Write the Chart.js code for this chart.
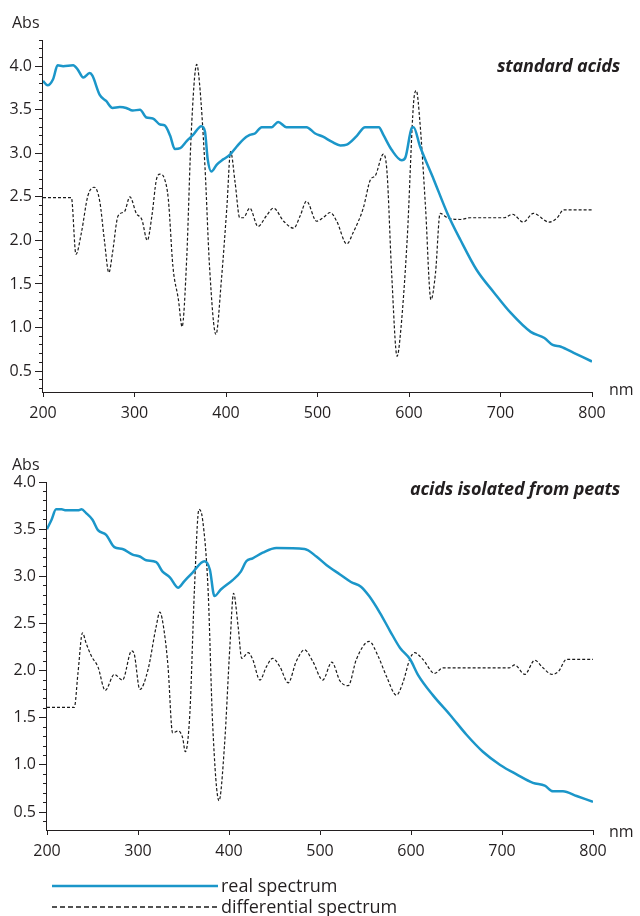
<!DOCTYPE html>
<html>
<head>
<meta charset="utf-8">
<script src="https://cdn.jsdelivr.net/npm/chart.js@4/dist/chart.umd.min.js"></script>
<style>
  html, body { margin: 0; padding: 0; background: #fff; }
  #wrap { position: relative; width: 640px; height: 916px; overflow: hidden; background: #fff; font-family: 'Open Sans', sans-serif; color: #231f20; }
  canvas { position: absolute; left: 0; }
  .lbl { position: absolute; font-size: 16px; line-height: 16px; white-space: nowrap; z-index: 2; }
  .ttl { position: absolute; right: 20px; font-size: 18px; line-height: 18px; font-weight: 700; font-style: italic; white-space: nowrap; z-index: 2; letter-spacing: -0.2px; }
  .leg { position: absolute; left: 221px; font-size: 18px; line-height: 18px; white-space: nowrap; z-index: 2; }
  svg { position: absolute; left: 0; top: 0; z-index: 2; }
</style>
</head>
<body>
<div id="wrap">
  <canvas id="c1" width="640" height="430" style="top:0"></canvas>
  <canvas id="c2" width="640" height="476" style="top:440px"></canvas>
  <div class="lbl" style="left:12px; top:14px;">Abs</div>
  <div class="lbl" style="left:609px; top:381px;">nm</div>
  <div class="ttl" style="top:56px;">standard acids</div>
  <div class="lbl" style="left:12px; top:456px;">Abs</div>
  <div class="lbl" style="left:609px; top:823px;">nm</div>
  <div class="ttl" style="top:479px;">acids isolated from peats</div>
  <svg width="640" height="916">
    <line x1="52" y1="886" x2="218" y2="886" stroke="#1b96c9" stroke-width="2.5"/>
    <line x1="52" y1="907" x2="218" y2="907" stroke="#1a1a1a" stroke-width="1.3" stroke-dasharray="5 3"/>
  </svg>
  <div class="leg" style="top:876px;">real spectrum</div>
  <div class="leg" style="top:897px;">differential spectrum</div>
</div>
<script>
// ---- Data (wavelength in nm, absorbance) ----
const xTicks = [200, 300, 400, 500, 600, 700, 800];
const yTickLabels = ['0.5', '1.0', '1.5', '2.0', '2.5', '3.0', '3.5', '4.0'];

const topRealNm  = [200,205,211,216,222,233,238,244,251,254,262,269,276,284,291,298,306,313,320,328,333,339,344,350,357,364,373,377,380,384,390,397,404,412,419,426,432,439,450,457,466,488,497,506,516,525,532,543,552,567,572,581,592,596,603,605,612,627,642,656,674,693,711,733,748,757,766,780,800];
const topRealAbs = [3.83,3.78,3.85,4.01,4.0,4.01,3.96,3.87,3.92,3.89,3.67,3.6,3.52,3.53,3.52,3.49,3.5,3.41,3.4,3.33,3.32,3.2,3.05,3.06,3.14,3.21,3.31,3.25,2.93,2.79,2.87,2.93,2.98,3.08,3.16,3.21,3.23,3.3,3.3,3.36,3.3,3.3,3.23,3.19,3.13,3.09,3.1,3.2,3.3,3.3,3.21,3.04,2.92,2.95,3.29,3.3,3.08,2.7,2.31,2.01,1.66,1.4,1.17,0.95,0.88,0.8,0.78,0.71,0.61];

const topDiffNm  = [200,231,236,242,249,256,262,267,272,276,282,289,295,302,308,314,319,324,328,333,337,342,348,352,357,362,368,371,377,382,389,395,401,405,410,415,419,426,435,444,452,463,474,481,488,499,506,514,521,532,539,550,558,563,572,576,581,587,590,598,605,608,612,618,624,629,634,642,656,667,704,713,725,736,753,762,769,800];
const topDiffAbs = [2.49,2.49,1.84,2.09,2.51,2.61,2.45,2.01,1.63,1.86,2.28,2.33,2.5,2.31,2.24,2.0,2.28,2.7,2.76,2.7,2.47,1.7,1.32,1.01,1.78,3.23,4.02,3.81,2.85,1.7,0.92,1.55,2.39,3.02,2.66,2.26,2.26,2.37,2.16,2.28,2.37,2.22,2.14,2.28,2.45,2.22,2.26,2.32,2.22,1.96,2.09,2.37,2.7,2.74,2.99,2.78,1.63,0.67,0.86,2.01,3.58,3.72,3.35,2.39,1.32,1.63,2.31,2.26,2.24,2.26,2.26,2.3,2.21,2.31,2.21,2.26,2.35,2.35];

const botRealNm  = [200,205,210,216,221,234,238,243,250,256,265,274,283,294,302,309,320,327,335,344,351,360,373,379,384,391,404,413,419,426,437,452,483,496,507,522,534,545,554,566,577,588,599,608,624,643,661,679,698,716,734,747,756,767,782,800];
const botRealAbs = [3.5,3.6,3.71,3.71,3.7,3.7,3.71,3.67,3.6,3.49,3.44,3.31,3.29,3.23,3.21,3.17,3.15,3.05,2.99,2.88,2.95,3.04,3.16,3.07,2.79,2.86,2.96,3.05,3.16,3.19,3.25,3.3,3.29,3.21,3.12,3.02,2.94,2.89,2.79,2.61,2.42,2.24,2.12,1.95,1.74,1.53,1.32,1.14,1.0,0.9,0.81,0.78,0.72,0.72,0.67,0.61];

const botDiffNm  = [200,230,234,239,243,249,256,264,274,283,293,296,302,311,320,324,329,333,338,344,349,352,357,362,367,371,377,382,389,395,401,405,410,414,421,426,434,441,448,456,465,474,483,492,503,513,522,531,540,554,564,573,584,591,599,604,613,626,635,661,708,714,725,736,745,755,762,771,800];
const botDiffAbs = [1.61,1.61,1.97,2.4,2.29,2.15,2.04,1.79,1.96,1.9,2.21,2.17,1.8,2.01,2.47,2.62,2.4,2.04,1.34,1.36,1.29,1.14,1.55,2.86,3.71,3.6,2.86,1.44,0.62,1.2,2.26,2.82,2.47,2.13,2.19,2.12,1.9,2.04,2.13,2.04,1.87,2.1,2.22,2.1,1.9,2.09,1.89,1.84,2.12,2.31,2.15,1.94,1.74,1.87,2.13,2.19,2.12,1.97,2.03,2.03,2.03,2.06,1.96,2.11,2.03,1.96,1.99,2.12,2.12];

// ---- Styling ----
const BLUE = '#1b96c9';
const INK = '#231f20';
Chart.defaults.font.family = "'Open Sans', sans-serif";
Chart.defaults.font.size = 16;
Chart.defaults.color = INK;

const pts = (xs, ys) => xs.map((x, i) => ({ x: x, y: ys[i] }));
const isMult = (v, s) => Math.abs(v / s - Math.round(v / s)) < 1e-6;

function makeChart(id, realNm, realAbs, diffNm, diffAbs, yMin, yMax, lay) {
  return new Chart(document.getElementById(id), {
    type: 'line',
    data: {
      datasets: [
        { label: 'real spectrum', data: pts(realNm, realAbs), borderColor: BLUE, borderWidth: 2.5,
          pointRadius: 0, cubicInterpolationMode: 'monotone', fill: false },
        { label: 'differential spectrum', data: pts(diffNm, diffAbs), borderColor: '#1a1a1a', borderWidth: 1.2,
          borderDash: [3, 2], pointRadius: 0, cubicInterpolationMode: 'monotone', fill: false }
      ]
    },
    options: {
      responsive: false, animation: false, maintainAspectRatio: false,
      layout: { padding: { left: 0, top: lay.top, right: lay.right, bottom: lay.bottom } },
      plugins: { legend: { display: false }, tooltip: { enabled: false }, title: { display: false } },
      scales: {
        x: {
          type: 'linear', min: xTicks[0], max: xTicks[xTicks.length - 1],
          afterBuildTicks: s => { s.ticks = xTicks.map(v => ({ value: v })); },
          ticks: { padding: 7, maxRotation: 0, autoSkip: false, color: INK, font: { size: 16 } },
          grid: { drawOnChartArea: false, tickLength: 5, color: INK, lineWidth: 1 },
          border: { color: INK, width: 1 },
          afterFit: s => { s.height = lay.xh; }
        },
        y: {
          type: 'linear', position: 'left', weight: 1, min: yMin, max: yMax,
          afterBuildTicks: s => { s.ticks = yTickLabels.map(t => ({ value: parseFloat(t) })); },
          ticks: { padding: 3, autoSkip: false, color: INK, font: { size: 16 },
                   callback: v => yTickLabels.find(t => Math.abs(parseFloat(t) - v) < 1e-6) || '' },
          grid: { drawOnChartArea: false, tickLength: 7, color: INK, lineWidth: 1 },
          border: { color: INK, width: 1 },
          afterFit: s => { s.width = lay.yw - 1; }
        },
        y2: {
          type: 'linear', position: 'left', weight: 0, min: yMin, max: yMax, display: true,
          afterBuildTicks: s => {
            const out = [];
            for (let k = Math.ceil(yMin * 10 - 1e-9); k <= Math.floor(yMax * 10 + 1e-9); k++) {
              if (k % 5 !== 0) out.push({ value: k / 10 });
            }
            s.ticks = out;
          },
          ticks: { display: true, autoSkip: false, padding: 0, callback: () => '', font: { size: 1 } },
          grid: { display: true, drawOnChartArea: false, drawTicks: true, tickLength: 4, lineWidth: 1, color: INK, tickColor: INK },
          border: { display: false },
          afterFit: s => { s.width = 1; }
        }
      }
    }
  });
}

makeChart('c1', topRealNm, topRealAbs, topDiffNm, topDiffAbs, 0.26, 4.3,
          { top: 40, right: 48, bottom: 4, xh: 34, yw: 43 });
makeChart('c2', botRealNm, botRealAbs, botDiffNm, botDiffAbs, 0.31, 4.0,
          { top: 42, right: 47, bottom: 52, xh: 34, yw: 47 });
</script>
</body>
</html>
